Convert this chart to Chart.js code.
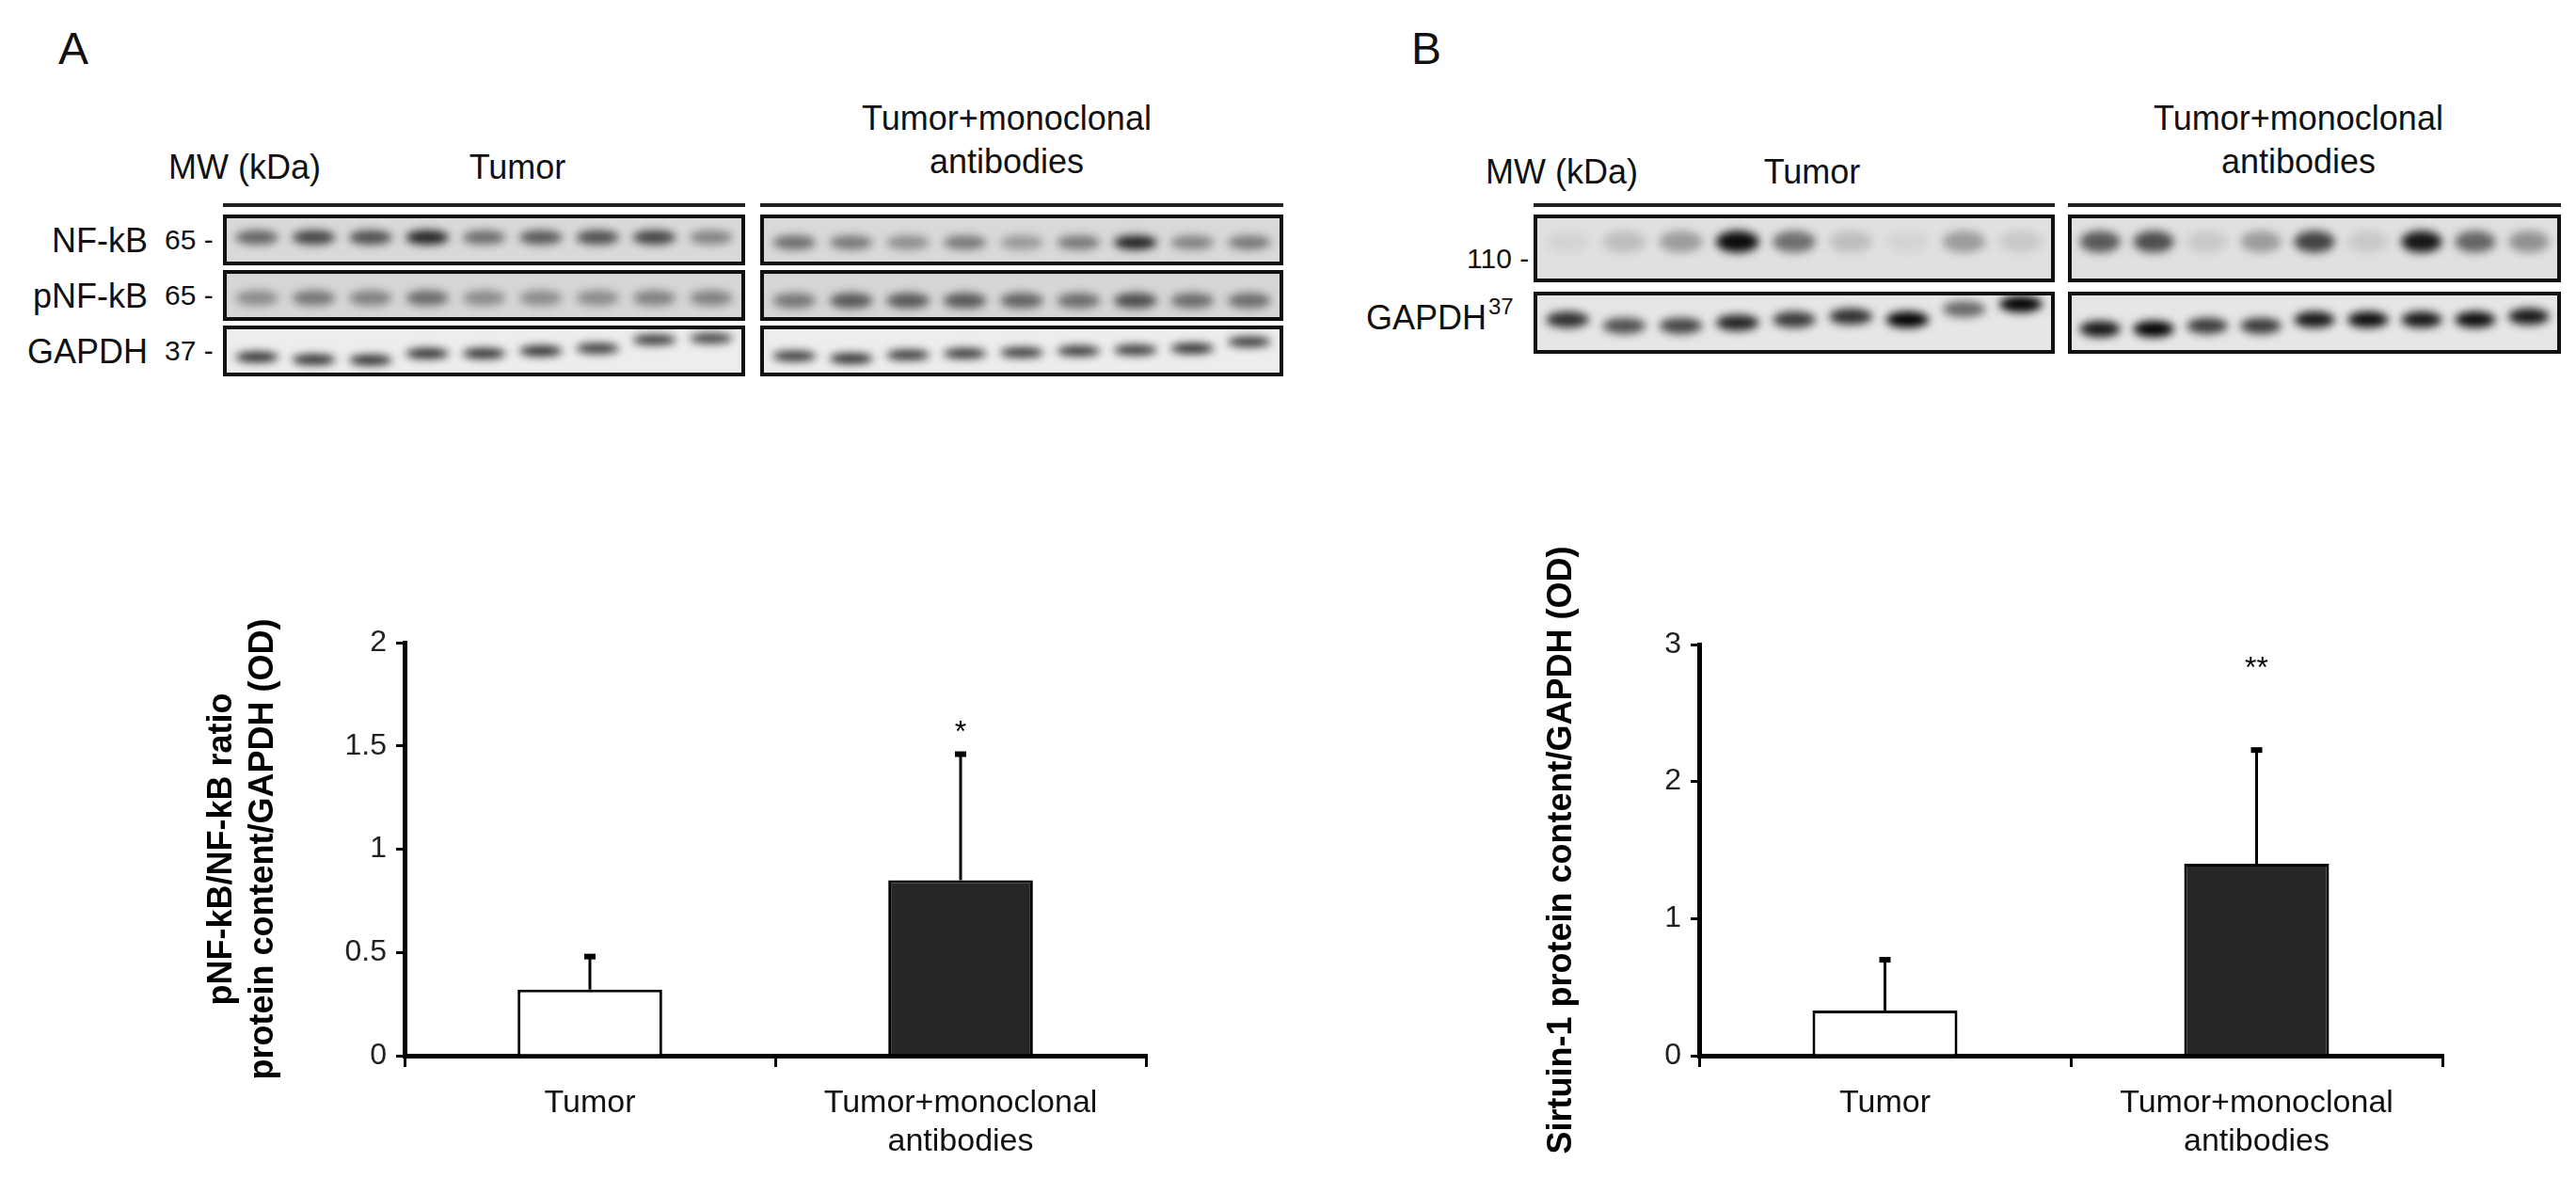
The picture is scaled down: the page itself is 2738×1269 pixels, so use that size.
<!DOCTYPE html>
<html>
<head>
<meta charset="utf-8">
<script src="https://cdn.jsdelivr.net/npm/chart.js@4"></script>
<style>
  body { margin: 0; background: #fff; width: 2738px; height: 1269px; position: relative; overflow: hidden;
         font-family: "Liberation Sans", Arial, sans-serif; color: #111; }
  .t { position: absolute; white-space: nowrap; font-size: 36px; line-height: 1; }
  .c { transform: translateX(-50%); text-align: center; }
  .r { transform: translateX(-100%); }
  .line { position: absolute; height: 4px; background: #222; }
  .box { position: absolute; }
</style>
</head>
<body>
<div class="t" style="left:62px;top:28px;font-size:48px">A</div>
<div class="t" style="left:1500px;top:28px;font-size:48px">B</div>

<!-- panel A blot labels -->
<div class="t" style="left:179px;top:160px">MW (kDa)</div>
<div class="t c" style="left:550px;top:160px">Tumor</div>
<div class="t c" style="left:1070px;top:108px">Tumor+monoclonal</div>
<div class="t c" style="left:1070px;top:154px">antibodies</div>
<div class="line" style="left:237px;top:216px;width:555px"></div>
<div class="line" style="left:808px;top:216px;width:556px"></div>
<div class="t r" style="left:157px;top:238px">NF-kB</div>
<div class="t" style="left:175px;top:240px;font-size:30px">65 -</div>
<div class="t r" style="left:157px;top:297px">pNF-kB</div>
<div class="t" style="left:175px;top:299px;font-size:30px">65 -</div>
<div class="t r" style="left:157px;top:356px">GAPDH</div>
<div class="t" style="left:175px;top:358px;font-size:30px">37 -</div>

<!-- panel B blot labels -->
<div class="t" style="left:1579px;top:165px">MW (kDa)</div>
<div class="t c" style="left:1926px;top:165px">Tumor</div>
<div class="t c" style="left:2443px;top:108px">Tumor+monoclonal</div>
<div class="t c" style="left:2443px;top:154px">antibodies</div>
<div class="line" style="left:1630px;top:216px;width:554px"></div>
<div class="line" style="left:2198px;top:216px;width:524px"></div>
<div class="t" style="left:1559px;top:260px;font-size:30px">110 -</div>
<div class="t r" style="left:1580px;top:320px">GAPDH</div>
<div class="t" style="left:1582px;top:314px;font-size:24px">37</div>

<div id="blots"></div>

<div class="box" style="left:214px;top:620px;width:1036px;height:649px"><canvas id="chartA"></canvas></div>
<div class="box" style="left:1638px;top:560px;width:1002px;height:709px"><canvas id="chartB"></canvas></div>

<script>
// bar chart data
const groups = ['Tumor', ['Tumor+monoclonal', 'antibodies']];
const nfkbRatio = [0.32, 0.85];
const nfkbRatioSd = [0.16, 0.61];
const nfkbStars = ['', '*'];
const sirtuin = [0.33, 1.40];
const sirtuinSd = [0.37, 0.83];
const sirtuinStars = ['', '**'];
const barColors = ['#ffffff', '#262626'];

// blot band intensities (9 lanes per strip) and band heights (0 bottom .. 1 top)
const nfkbTumor = [0.55, 0.7, 0.65, 0.85, 0.5, 0.6, 0.65, 0.7, 0.4];
const nfkbMab = [0.5, 0.45, 0.35, 0.45, 0.3, 0.45, 0.85, 0.4, 0.45];
const pnfkbTumor = [0.35, 0.45, 0.4, 0.5, 0.35, 0.35, 0.35, 0.4, 0.4];
const pnfkbMab = [0.45, 0.6, 0.6, 0.6, 0.55, 0.5, 0.65, 0.5, 0.5];
const gapdhATumor = [0.85, 0.85, 0.85, 0.85, 0.85, 0.85, 0.8, 0.8, 0.75];
const gapdhATumorPos = [0.38, 0.33, 0.32, 0.45, 0.45, 0.5, 0.55, 0.72, 0.75];
const gapdhAMab = [0.8, 0.85, 0.8, 0.8, 0.8, 0.8, 0.8, 0.85, 0.8];
const gapdhAMabPos = [0.4, 0.35, 0.42, 0.45, 0.47, 0.5, 0.52, 0.55, 0.68];
const sirtTumor = [0.05, 0.15, 0.3, 0.95, 0.5, 0.15, 0.05, 0.3, 0.1];
const sirtMab = [0.6, 0.65, 0.1, 0.3, 0.7, 0.1, 0.9, 0.55, 0.35];
const gapdhBTumor = [0.8, 0.65, 0.7, 0.85, 0.75, 0.8, 1, 0.55, 1];
const gapdhBTumorPos = [0.55, 0.45, 0.45, 0.5, 0.55, 0.6, 0.55, 0.72, 0.8];
const gapdhBMab = [0.9, 1, 0.75, 0.75, 0.9, 0.95, 0.9, 0.95, 0.9];
const gapdhBMabPos = [0.4, 0.4, 0.45, 0.45, 0.55, 0.55, 0.55, 0.55, 0.6];

const FONT = '"Liberation Sans", Arial, sans-serif';

const bandPlugin = {
    id: 'bands',
    beforeDraw(chart, args, opts) {
        const ctx = chart.ctx;
        ctx.save();
        ctx.fillStyle = opts.bg;
        ctx.fillRect(0, 0, chart.width, chart.height);
        ctx.restore();
    },
    afterDatasetsDraw(chart, args, opts) {
        const ctx = chart.ctx;
        const xs = chart.scales.x, ys = chart.scales.y;
        const laneW = xs.getPixelForValue(2) - xs.getPixelForValue(1);
        ctx.save();
        ctx.filter = 'blur(5px)';
        chart.data.datasets[0].data.forEach((p, i) => {
            const a = opts.intensity[i];
            ctx.fillStyle = `rgba(0,0,0,${a})`;
            ctx.beginPath();
            ctx.ellipse(xs.getPixelForValue(p.x), ys.getPixelForValue(p.y), laneW * 0.38, chart.height * opts.h, 0, 0, Math.PI * 2);
            ctx.fill();
        });
        ctx.restore();
        ctx.save();
        ctx.strokeStyle = '#111';
        ctx.lineWidth = 4;
        ctx.strokeRect(2, 2, chart.width - 4, chart.height - 4);
        ctx.restore();
    }
};

function makeBlot(left, top, width, height, intensity, pos, bg, h) {
    const div = document.createElement('div');
    div.className = 'box';
    div.style.cssText = `left:${left}px;top:${top}px;width:${width}px;height:${height}px`;
    const canvas = document.createElement('canvas');
    div.appendChild(canvas);
    document.getElementById('blots').appendChild(div);
    new Chart(canvas, {
        type: 'scatter',
        data: { datasets: [{ data: intensity.map((v, i) => ({ x: i + 1, y: Array.isArray(pos) ? pos[i] : pos })), pointRadius: 0 }] },
        options: {
            animation: false, responsive: true, maintainAspectRatio: false, devicePixelRatio: 1,
            layout: { padding: 0 },
            plugins: { legend: { display: false }, tooltip: { enabled: false }, bands: { intensity, bg, h } },
            scales: {
                x: { display: false, min: 0.4, max: 9.6 },
                y: { display: false, min: 0, max: 1 }
            }
        },
        plugins: [bandPlugin]
    });
}

makeBlot(237, 228, 555, 54, nfkbTumor, 0.55, '#d9d9d9', 0.14);
makeBlot(808, 228, 556, 54, nfkbMab, 0.45, '#d9d9d9', 0.14);
makeBlot(237, 287, 555, 54, pnfkbTumor, 0.45, '#d6d6d6', 0.15);
makeBlot(808, 287, 556, 54, pnfkbMab, 0.4, '#d6d6d6', 0.15);
makeBlot(237, 346, 555, 54, gapdhATumor, gapdhATumorPos, '#ededed', 0.1);
makeBlot(808, 346, 556, 54, gapdhAMab, gapdhAMabPos, '#ededed', 0.1);
makeBlot(1630, 228, 554, 72, sirtTumor, 0.6, '#e0e0e0', 0.16);
makeBlot(2198, 228, 524, 72, sirtMab, 0.6, '#e0e0e0', 0.16);
makeBlot(1630, 310, 554, 66, gapdhBTumor, gapdhBTumorPos, '#e6e6e6', 0.13);
makeBlot(2198, 310, 524, 66, gapdhBMab, gapdhBMabPos, '#e6e6e6', 0.13);

const errorBarPlugin = {
    id: 'errorBars',
    afterDatasetsDraw(chart, args, opts) {
        const ctx = chart.ctx;
        const meta = chart.getDatasetMeta(0);
        const ys = chart.scales.y;
        const values = chart.data.datasets[0].data;
        ctx.save();
        ctx.strokeStyle = '#000';
        ctx.fillStyle = '#000';
        meta.data.forEach((bar, i) => {
            const top = ys.getPixelForValue(values[i] + opts.sd[i]);
            ctx.lineWidth = 3;
            ctx.beginPath();
            ctx.moveTo(bar.x, bar.y);
            ctx.lineTo(bar.x, top);
            ctx.stroke();
            ctx.lineWidth = 6;
            ctx.beginPath();
            ctx.moveTo(bar.x - 6, top);
            ctx.lineTo(bar.x + 6, top);
            ctx.stroke();
            if (opts.stars[i]) {
                ctx.font = `32px ${FONT}`;
                ctx.textAlign = 'center';
                ctx.textBaseline = 'middle';
                ctx.fillText(opts.stars[i], bar.x, ys.getPixelForValue(opts.starY));
            }
        });
        ctx.restore();
    }
};

function makeBarChart(id, values, sd, stars, starY, yMax, step, title, yWidth, padRight, padTop) {
    new Chart(document.getElementById(id), {
        type: 'bar',
        data: {
            labels: groups,
            datasets: [{
                data: values,
                backgroundColor: barColors,
                borderColor: '#000',
                borderWidth: 3,
                borderSkipped: 'bottom',
                categoryPercentage: 1,
                barPercentage: 0.39
            }]
        },
        options: {
            animation: false, responsive: true, maintainAspectRatio: false, devicePixelRatio: 1,
            layout: { padding: { top: padTop, right: padRight, bottom: 0, left: 0 } },
            plugins: {
                legend: { display: false }, tooltip: { enabled: false },
                errorBars: { sd, stars, starY }
            },
            scales: {
                x: {
                    offset: true,
                    afterFit: s => { s.height = 147; },
                    grid: { offset: true, drawOnChartArea: false, drawTicks: true, tickLength: 12, color: '#000', lineWidth: 3 },
                    border: { display: true, color: '#000', width: 5 },
                    ticks: { color: '#111', font: { family: FONT, size: 34 }, padding: 18, maxRotation: 0 }
                },
                y: {
                    min: 0, max: yMax,
                    afterFit: s => { s.width = yWidth; },
                    grid: { drawOnChartArea: false, drawTicks: true, tickLength: 9, color: '#000', lineWidth: 3 },
                    border: { display: true, color: '#000', width: 5 },
                    ticks: { stepSize: step, color: '#222', font: { family: FONT, size: 32 }, padding: 10,
                             callback: v => String(Number(v.toFixed(2))) },
                    title: { display: true, text: title, color: '#000', padding: 0, font: { family: FONT, size: 36, weight: 'bold', lineHeight: 1.22 } }
                }
            }
        },
        plugins: [errorBarPlugin]
    });
}

makeBarChart('chartA', nfkbRatio, nfkbRatioSd, nfkbStars, 1.56, 2, 0.5,
    ['pNF-kB/NF-kB ratio', 'protein content/GAPDH (OD)'], 216, 32, 63);
makeBarChart('chartB', sirtuin, sirtuinSd, sirtuinStars, 2.82, 3, 1,
    'Sirtuin-1 protein content/GAPDH (OD)', 168, 44, 125);
</script>
</body>
</html>
